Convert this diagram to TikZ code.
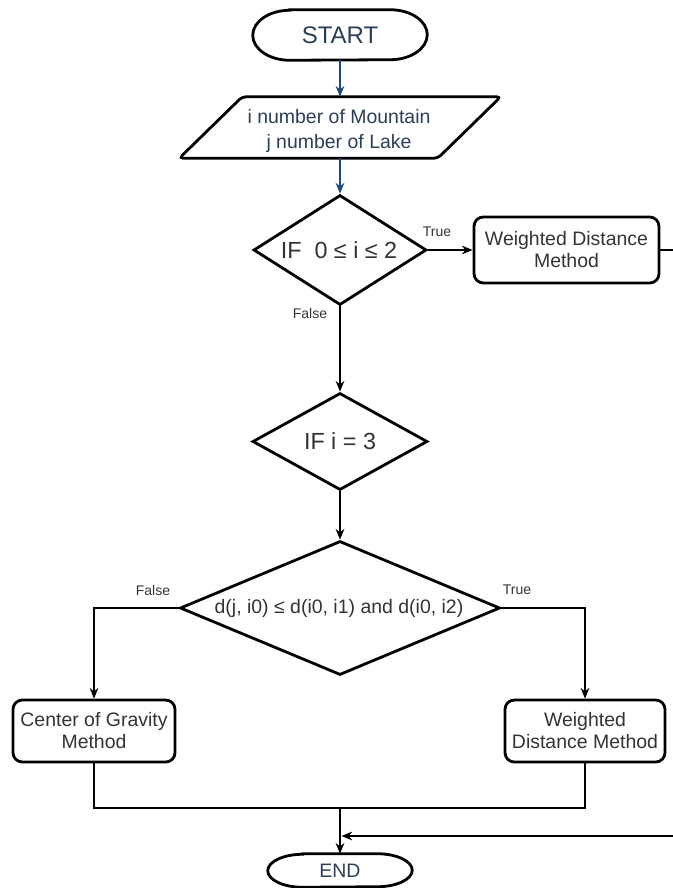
\documentclass[tikz,border=0pt]{standalone}
\usepackage{fontspec}
\setmainfont{Liberation Sans}
\usetikzlibrary{shapes.geometric,arrows.meta}
\definecolor{inkblue}{RGB}{44,62,88}
\definecolor{flowblue}{RGB}{28,72,125}
\definecolor{txtgray}{RGB}{51,51,51}
\begin{document}
\begin{tikzpicture}[x=0.75pt,y=-0.75pt,
  shapeline/.style={line width=2.1pt},
  conn/.style={line width=1.1pt,-{Stealth[length=8pt,width=6.5pt,inset=2.5pt]}},
  bluec/.style={conn,draw=flowblue},
  plain/.style={line width=1.1pt},
  body/.style={font=\fontsize{14.6}{16.5}\selectfont,text=txtgray,align=center},
  bigbody/.style={font=\fontsize{17.5}{20}\selectfont,text=txtgray,align=center},
  termtext/.style={font=\fontsize{14.6}{18.75}\selectfont,text=inkblue,align=center},
  tag/.style={font=\fontsize{10.5}{12}\selectfont,text=txtgray},
  procbox/.style={draw,shapeline,rounded corners=7pt,body,inner sep=0pt},
  decision/.style={draw,shapeline,diamond,inner sep=0pt},
  frame/.style={inner sep=0pt}]
\useasboundingbox (0,0) rectangle (673,888);
\clip (0,0) rectangle (673,888);

% terminators and input
\node[frame,termtext,minimum width=130.5pt,minimum height=37.5pt] (start) at (340,35) {\fontsize{18}{20}\selectfont START};
\draw[shapeline] ([xshift=27.75pt]start.north west) -- ([xshift=-27.75pt]start.north east)
  arc[start angle=90,end angle=-90,x radius=27.75pt,y radius=18.75pt]
  -- ([xshift=27.75pt]start.south west)
  arc[start angle=-90,end angle=-270,x radius=27.75pt,y radius=18.75pt] -- cycle;

\node[frame,minimum width=240.75pt,minimum height=45.75pt] (inp) at (340,127.5) {};
\node[termtext] (inpt) at (339,130.5) {i number of Mountain\\j number of Lake};
\draw[shapeline,rounded corners=3pt] (inp.south west) -- ([xshift=-47.25pt]inp.south east)
  -- (inp.north east) -- ([xshift=47.25pt]inp.north west) -- cycle;

\node[frame,termtext,minimum width=108pt,minimum height=24.75pt] (end) at (340,870.5) {END};
\draw[shapeline] ([xshift=26.25pt]end.north west) -- ([xshift=-26.25pt]end.north east)
  arc[start angle=90,end angle=-90,x radius=26.25pt,y radius=12.375pt]
  -- ([xshift=26.25pt]end.south west)
  arc[start angle=-90,end angle=-270,x radius=26.25pt,y radius=12.375pt] -- cycle;

% decisions
\node[decision,minimum width=129.75pt,minimum height=82.5pt] (d1) at (340,250) {};
\node[bigbody] (d1t) at (339,250) {IF\ \ 0 ≤ i ≤ 2};
\node[decision,minimum width=131.25pt,minimum height=72.75pt] (d2) at (340,441.5) {};
\node[bigbody] (d2t) at (340,441.5) {IF i = 3};
\node[decision,minimum width=240pt,minimum height=100.5pt] (d3) at (340,608) {};
\node[body] (d3t) at (339,608) {d(j, i0) ≤ d(i0, i1) and d(i0, i2)};

% processes
\node[procbox,minimum width=138.75pt,minimum height=49.5pt] (r1) at (566.5,250) {Weighted Distance\\Method};
\node[procbox,minimum width=121.5pt,minimum height=46.5pt] (r3) at (94,731) {Center of Gravity\\Method};
\node[procbox,minimum width=120pt,minimum height=46.5pt] (r4) at (585,731) {Weighted\\Distance Method};

\coordinate (join) at (340,808);
\coordinate (merge) at (341.5,836);

% connectors
\draw[bluec] (start.south) -- (inp.north);
\draw[bluec] (inp.south) -- (d1.north);
\draw[conn] (d1.east) -- (r1.west);
\draw[conn] (d1.south) -- (d2.north);
\draw[conn] (d2.south) -- (d3.north);
\draw[conn] (d3.west) -| (r3.north);
\draw[conn] (d3.east) -| (r4.north);
\draw[plain] (r3.south) |- (join);
\draw[plain] (r4.south) |- (join);
\draw[conn] (join) -- (end.north);
\draw[conn] (r1.east) -- (700,250) |- (merge);

% branch labels
\node[tag] (t1) at (437,232) {True};
\node[tag] (f1) at (310,313) {False};
\node[tag] (f3) at (153,590) {False};
\node[tag] (t3) at (517,590) {True};
\end{tikzpicture}
\end{document}
